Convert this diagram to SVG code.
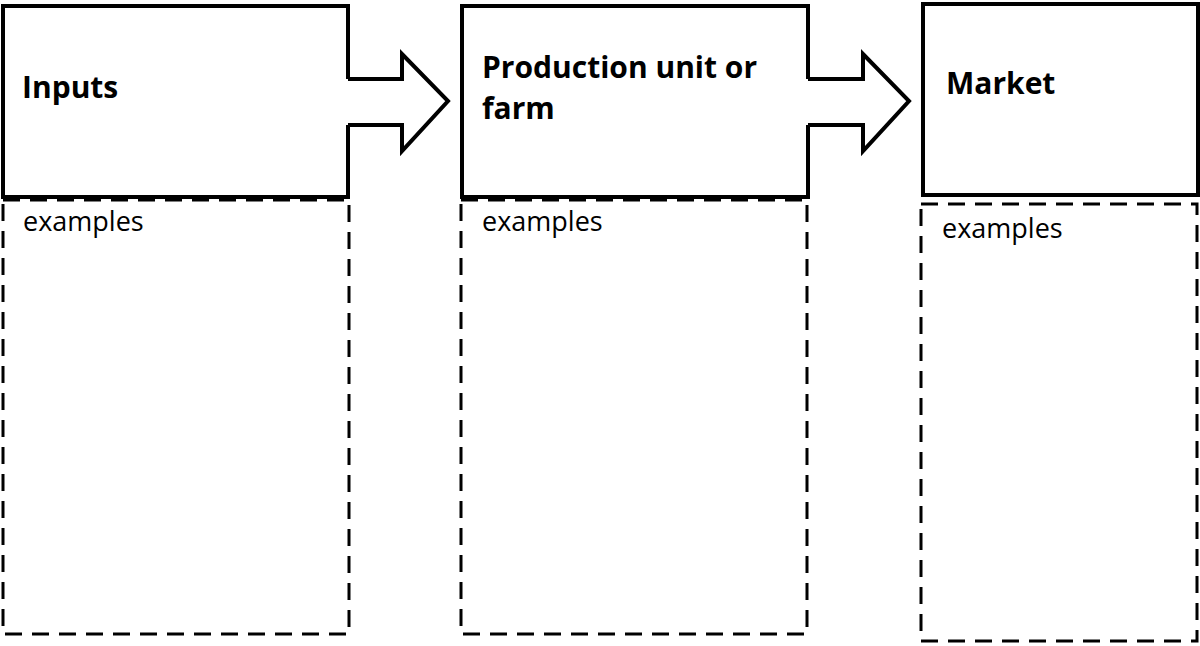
<svg xmlns="http://www.w3.org/2000/svg" width="1200" height="646" viewBox="0 0 1200 646">
  <style>
    .solid { fill: none; stroke: #000; stroke-width: 4; stroke-linejoin: miter; }
    .dash { fill: none; stroke: #000; stroke-width: 3; stroke-dasharray: 17 10; }
    .title { font-family: "Open Sans", "Liberation Sans", sans-serif; font-weight: bold; font-size: 30px; fill: #000; }
    .ex { font-family: "Open Sans", "Liberation Sans", sans-serif; font-size: 27px; fill: #000; }
  </style>
  <rect width="1200" height="646" fill="#fff"/>
  <g id="inputs">
    <path class="solid" d="M348,79 V6 H3 V197 H348 V125"/>
    <text class="title" x="22" y="98">Inputs</text>
  </g>
  <g id="inputs-examples">
    <rect class="dash" x="3" y="200" width="346" height="434"/>
    <text class="ex" x="23" y="231">examples</text>
  </g>
  <g id="production">
    <path class="solid" d="M808,79 V6 H462 V197 H808 V125"/>
    <text class="title" x="482" y="78">Production unit or</text>
    <text class="title" x="482" y="119">farm</text>
  </g>
  <g id="production-examples">
    <rect class="dash" x="461" y="200" width="346" height="434"/>
    <text class="ex" x="482" y="231">examples</text>
  </g>
  <g id="market">
    <rect class="solid" x="923" y="4" width="275" height="191"/>
    <text class="title" x="946" y="94">Market</text>
  </g>
  <g id="market-examples">
    <rect class="dash" x="921" y="204" width="276" height="437"/>
    <text class="ex" x="942" y="238">examples</text>
  </g>
  <g id="connectors">
    <path class="solid" d="M348,79 H402 V54 L448,101 L402,151 V125 H348"/>
    <path class="solid" d="M808,79 H863 V54 L909,101 L863,151 V125 H808"/>
  </g>
</svg>
